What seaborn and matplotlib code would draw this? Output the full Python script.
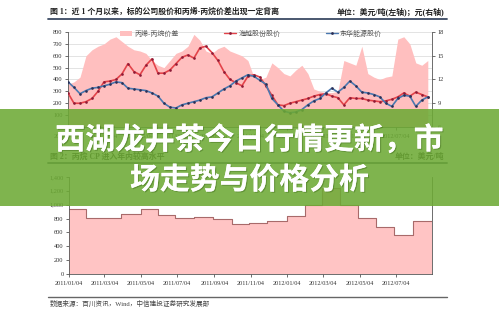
import numpy as np
import pandas as pd
import matplotlib
matplotlib.use('Agg')
import matplotlib.pyplot as plt
import matplotlib.patheffects as pe
import seaborn as sns
from matplotlib.patches import Patch, Rectangle
from matplotlib.lines import Line2D

# ---------------- data ----------------
start_date = '2011-01-04'
end_date = '2012-09-02'
n_points = 61
step_days = '10D'

haiyue = [10.3, 9.0, 9.0, 9.2, 9.6, 10.5, 11.7, 11.8, 12.0, 12.7,
          14.0, 13.0, 12.6, 13.8, 14.6, 12.8, 12.8, 13.2, 14.0, 14.8,
          15.1, 14.7, 16.0, 16.2, 15.4, 14.4, 13.0, 12.0, 11.6, 11.2,
          12.4, 12.6, 12.3, 11.2, 10.0, 8.8, 8.7, 9.0, 9.2, 9.4,
          9.6, 9.9, 10.1, 10.2, 9.9, 9.7, 8.8, 9.7, 9.6, 9.6,
          9.4, 9.3, 9.2, 9.3, 9.5, 9.8, 10.3, 9.9, 10.4, 10.1, 9.8]
donghua = [11.7, 11.0, 10.2, 10.6, 10.9, 11.0, 11.2, 11.4, 11.7, 11.6,
           10.9, 10.8, 10.7, 10.6, 10.3, 9.9, 9.0, 8.5, 8.4, 8.8,
           9.0, 9.2, 9.4, 9.7, 9.8, 10.3, 10.8, 11.2, 11.8, 12.2,
           12.6, 12.4, 11.9, 11.4, 9.6, 8.8, 8.0, 7.8, 7.9, 8.2,
           8.8, 9.3, 9.6, 10.3, 10.9, 10.4, 11.0, 11.8, 11.2, 10.4,
           10.3, 10.1, 9.8, 9.0, 8.6, 9.6, 10.0, 9.9, 8.6, 9.4, 9.8]
spread = [360, 380, 420, 600, 650, 680, 700, 740, 760, 720,
          680, 650, 640, 620, 560, 520, 500, 560, 620, 640,
          680, 780, 730, 640, 620, 660, 680, 640, 620, 600,
          560, 420, 400, 420, 540, 500, 450, 430, 480, 520,
          450, 320, 300, 290, 290, 300, 560, 540, 520, 680,
          450, 420, 400, 420, 430, 740, 760, 700, 540, 520, 560]

cp_dates = ['2011-01-04', '2011-02-01', '2011-04-01', '2011-05-04', '2011-06-01',
            '2011-07-01', '2011-08-01', '2011-09-01', '2011-10-04', '2011-11-01',
            '2011-12-01', '2012-01-04', '2012-02-03', '2012-03-02', '2012-04-01',
            '2012-05-01', '2012-06-01', '2012-07-01', '2012-08-01', '2012-09-02']
cp_values = [934, 803, 861, 938, 851, 803, 822, 789, 721, 736,
             765, 841, 1000, 1240, 1000, 805, 676, 570, 760, 760]

tick_labels = ['2011/01/04', '2011/03/04', '2011/05/04', '2011/07/04', '2011/09/04',
               '2011/11/04', '2012/01/04', '2012/03/04', '2012/05/04', '2012/07/04']
left_ticks_top = [0, 100, 200, 300, 400, 500, 600, 700, 800]
right_ticks_top = [6, 9, 12, 15, 18]
ticks_bottom = [0, 200, 400, 600, 800, 1000, 1200, 1400]

title1 = '图 1：近 1 个月以来，标的公司股价和丙烯-丙烷价差出现一定背离'
unit1 = '单位：美元/吨(左轴)；元(右轴)'
title2 = '图 2：丙烷 CP 进入年内较高水平'
unit2 = '单位：美元/吨'
source = '数据来源：百川资讯，Wind，中信建投证券研究发展部'
leg_labels = ['丙烯-丙烷价差', '海越股份股价', '东华能源股价']
banner_lines = ['西湖龙井茶今日行情更新，市', '场走势与价格分析']

# ---------------- setup ----------------
sns.set_theme(style='white')
plt.rcParams['font.family'] = ['Liberation Serif', 'Noto Sans CJK SC', 'DejaVu Sans']
plt.rcParams['axes.unicode_minus'] = False

W, H = 499, 316
fig = plt.figure(figsize=(W / 100, H / 100), dpi=100)
fig.patch.set_facecolor('white')


def rect(x0, y0, x1, y1):
    return [x0 / W, 1 - y1 / H, (x1 - x0) / W, (y1 - y0) / H]


def fx(x):
    return x / W


def fy(y):
    return 1 - y / H


dates = pd.date_range(start_date, periods=n_points, freq=step_days)
df = pd.DataFrame({'date': dates, 'haiyue': haiyue, 'donghua': donghua, 'spread': spread})
cp = pd.DataFrame({'date': pd.to_datetime(cp_dates), 'cp': cp_values})
xt = pd.to_datetime(tick_labels, format='%Y/%m/%d')
x0, x1 = pd.Timestamp(start_date), pd.Timestamp(end_date)

PINK = '#ffbfbf'
RULE = '#3b4a63'
TXT = '#222222'
RED, RED_M = '#e3434a', '#8e1a36'
BLUE, BLUE_M = '#4a78b0', '#2b2f55'

# ---------------- headers & rules ----------------
fig.text(fx(50), fy(12), title1, fontsize=5.7, fontweight='bold', color=TXT, ha='left', va='center')
fig.text(fx(444), fy(12), unit1, fontsize=5.7, fontweight='bold', color=TXT, ha='right', va='center')
fig.add_artist(Line2D([fx(48), fx(447)], [fy(19), fy(19)], color=RULE, lw=1.3))

fig.text(fx(50), fy(157), title2, fontsize=5.7, fontweight='bold', color=TXT, ha='left', va='center')
fig.text(fx(444), fy(157), unit2, fontsize=5.7, fontweight='bold', color=TXT, ha='right', va='center')
fig.add_artist(Line2D([fx(48), fx(447)], [fy(163), fy(163)], color=RULE, lw=1.3))

fig.add_artist(Line2D([fx(48), fx(447)], [fy(297), fy(297)], color='#666666', lw=1.0))
fig.text(fx(50), fy(303), source, fontsize=4.8, color='#444444', ha='left', va='center')

# ---------------- top chart ----------------
ax1 = fig.add_axes(rect(68, 32, 432, 127))
ax1.set_facecolor('none')
ax1.fill_between(df['date'], 0, df['spread'], color=PINK, lw=0, zorder=1)
ax1.set_ylim(0, 800)
ax1.set_yticks(left_ticks_top)
ax1.set_xlim(x0, x1)
ax1.set_xticks(xt)
ax1.set_xticklabels(tick_labels)
ax1.yaxis.grid(True, color='#d8d8d8', lw=0.5, zorder=0)
ax1.set_axisbelow(True)
ax1.set_xlabel('')
ax1.set_ylabel('')

ax2 = ax1.twinx()
sns.lineplot(data=df, x='date', y='haiyue', ax=ax2, color=RED, lw=1.2,
             marker='o', markersize=1.9, markeredgewidth=0, markerfacecolor=RED_M)
sns.lineplot(data=df, x='date', y='donghua', ax=ax2, color=BLUE, lw=1.2,
             marker='o', markersize=1.9, markeredgewidth=0, markerfacecolor=BLUE_M)
ax2.set_ylim(6, 18)
ax2.set_yticks(right_ticks_top)
ax2.set_xlim(x0, x1)
ax2.set_xlabel('')
ax2.set_ylabel('')
ax2.grid(False)

for a in (ax1, ax2):
    for s in a.spines.values():
        s.set_color('#555555')
        s.set_linewidth(0.6)
    a.spines['top'].set_visible(False)
ax1.spines['right'].set_visible(False)
ax2.spines['left'].set_visible(False)
ax2.spines['bottom'].set_visible(False)

ax1.tick_params(axis='y', labelsize=4.6, length=2, width=0.5, pad=2, colors='#333333', direction='out', left=True)
ax1.tick_params(axis='x', labelsize=4.4, length=2, width=0.5, pad=3, colors='#333333', direction='out', bottom=True)
ax2.tick_params(axis='y', labelsize=4.6, length=2, width=0.5, pad=2, colors='#333333', direction='out', right=True)

handles = [Patch(facecolor=PINK, edgecolor='none'),
           Line2D([], [], color=RED, lw=1.0, marker='o', markersize=2.0,
                  markeredgewidth=0, markerfacecolor=RED_M),
           Line2D([], [], color=BLUE, lw=1.0, marker='o', markersize=2.0,
                  markeredgewidth=0, markerfacecolor=BLUE_M)]
leg = ax2.legend(handles, leg_labels, ncol=3, loc='center', bbox_to_anchor=(0.503, 0.985),
                 frameon=False, fontsize=5, handlelength=1.7, handleheight=0.8,
                 handletextpad=0.3, columnspacing=6.6, borderaxespad=0)
for t in leg.get_texts():
    t.set_color('#555555')

# ---------------- bottom chart ----------------
ax3 = fig.add_axes(rect(69, 177, 432, 274))
ax3.fill_between(cp['date'], 0, cp['cp'], step='post', color='#ffc4c4', lw=0, zorder=1)
sns.lineplot(data=cp, x='date', y='cp', ax=ax3, color='#a86a6a', lw=0.8, drawstyle='steps-post', zorder=2)
ax3.set_ylim(0, 1400)
ax3.set_yticks(ticks_bottom)
ax3.set_yticklabels([f'{v:,}' for v in ticks_bottom])
ax3.set_xlim(x0, x1)
ax3.set_xticks(xt)
ax3.set_xticklabels(tick_labels)
ax3.set_xlabel('')
ax3.set_ylabel('')
ax3.grid(False)
for s in ax3.spines.values():
    s.set_color('#555555')
    s.set_linewidth(0.6)
ax3.spines['top'].set_visible(False)
ax3.tick_params(axis='y', labelsize=4.6, length=2, width=0.5, pad=2, colors='#333333', direction='out', left=True)
ax3.tick_params(axis='x', labelsize=4.4, length=2, width=0.5, pad=3, colors='#333333', direction='out', bottom=True)

# ---------------- banner overlay ----------------
fig.add_artist(Rectangle((0, fy(206)), 1, (206 - 109) / H, transform=fig.transFigure,
                         facecolor='#6daa35', edgecolor='none', alpha=0.88, zorder=20))
shadow = [pe.withSimplePatchShadow(offset=(0.8, -0.8), shadow_rgbFace='#3d6a1a', alpha=0.45), pe.Normal()]
fig.text(0.5, fy(140), banner_lines[0], fontsize=21.5, fontweight='bold', color='white',
         ha='center', va='center', family=['Noto Sans CJK SC', 'DejaVu Sans'], zorder=21,
         path_effects=shadow)
fig.text(0.5, fy(180), banner_lines[1], fontsize=21.5, fontweight='bold', color='white',
         ha='center', va='center', family=['Noto Sans CJK SC', 'DejaVu Sans'], zorder=21,
         path_effects=shadow)

fig.savefig('out.png', dpi=100, facecolor='white')
